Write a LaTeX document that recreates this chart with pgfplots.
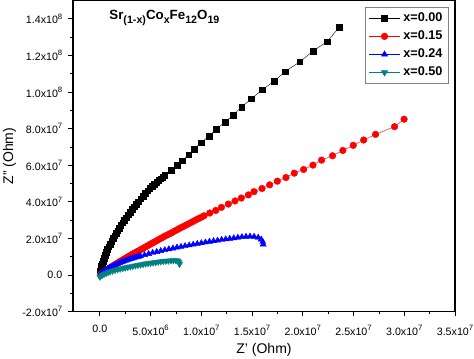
\documentclass[border=0pt]{standalone}
\usepackage{pgfplots}
\pgfplotsset{compat=1.18}
\usepackage{fontspec}
\setmainfont{Liberation Sans}
\definecolor{tealc}{RGB}{0,128,128}
\newcommand{\sub}[1]{\raisebox{-0.28em}{\fontsize{8}{9}\selectfont #1}}
\newcommand{\tsup}[1]{\raisebox{0.45em}{\fontsize{5.8}{6}\selectfont #1}}
\begin{document}
\begin{tikzpicture}
\begin{axis}[
  name=ax,
  scale only axis,
  width=286.5pt, height=233.3pt,
  xmin=-2.65, xmax=35, ymin=-2, ymax=15,
  axis line style={line width=0.9pt},
  tick pos=left, tick align=outside,
  major tick length=3.5pt, minor tick length=2pt,
  every tick/.style={black, line width=0.6pt},
  xtick={0,5,10,15,20,25,30,35},
  xticklabels={0.0,5.0x10\tsup{6},1.0x10\tsup{7},1.5x10\tsup{7},2.0x10\tsup{7},2.5x10\tsup{7},3.0x10\tsup{7},3.5x10\tsup{7}},
  ytick={-2,0,2,4,6,8,10,12,14},
  yticklabels={-2.0x10\tsup{7},0.0,2.0x10\tsup{7},4.0x10\tsup{7},6.0x10\tsup{7},8.0x10\tsup{7},1.0x10\tsup{8},1.2x10\tsup{8},1.4x10\tsup{8}},
  minor x tick num=1, minor y tick num=1,
  tick label style={font=\fontsize{8}{9}\selectfont},
  xticklabel style={yshift=-3pt},
  yticklabel style={xshift=-1pt},
  xlabel={Z' (Ohm)}, ylabel={Z'' (Ohm)},
  label style={font=\fontsize{10.5}{12}\selectfont},
  xlabel style={yshift=1pt},
  ylabel style={yshift=-2pt},
  legend style={at={(0.984,0.981)}, anchor=north east, draw=gray, line width=0.6pt,
    font=\fontsize{9.5}{11}\selectfont\bfseries, row sep=1.4pt, inner sep=2.5pt},
  legend image code/.code={\draw[mark repeat=2,mark phase=2,line width=0.4pt] plot coordinates {(0cm,0cm) (0.42cm,0cm) (0.84cm,0cm)};},
  legend cell align=left,
]
\addplot[black, line width=0.3pt, mark=square*, mark size=2.1pt] coordinates {
(0.05,0.24) (0.1,0.37) (0.15,0.49) (0.22,0.63) (0.3,0.77) (0.4,0.93) (0.5,1.08) (0.62,1.24)
(0.75,1.40) (0.87,1.55) (1.0,1.69) (1.15,1.85) (1.3,2.00) (1.45,2.15) (1.6,2.29) (1.75,2.43)
(1.9,2.56) (2.07,2.71) (2.25,2.86) (2.42,3.00) (2.6,3.14) (2.8,3.30) (3.0,3.45) (3.2,3.60)
(3.4,3.74) (3.6,3.88) (3.8,4.02) (4.02,4.17) (4.25,4.32) (4.47,4.47) (4.7,4.62) (4.92,4.75)
(5.15,4.86) (5.37,4.97) (5.6,5.08) (5.8,5.18) (6.0,5.27) (6.2,5.36) (6.4,5.45)
(7.05,5.72) (7.64,5.99) (8.14,6.26) (8.76,6.58)
(9.29,6.89) (10.0,7.24) (10.76,7.6) (11.45,7.97) (12.33,8.35) (13.12,8.74) (13.98,9.19)
(14.93,9.63) (16.0,10.13) (17.19,10.6) (18.24,11.12) (19.7,11.65) (21.0,12.24) (22.4,12.76) (23.6,13.55)
};
\addlegendentry{x=0.00}
\addplot[red, line width=0.3pt, mark=*, mark size=2.5pt] coordinates {
(0.1,0.05) (0.2,0.09) (0.3,0.13) (0.45,0.19) (0.6,0.25) (0.8,0.33) (1.0,0.40) (1.2,0.47)
(1.4,0.54) (1.6,0.61) (1.8,0.68) (2.0,0.75) (2.2,0.81) (2.4,0.88) (2.6,0.94) (2.8,1.01)
(3.0,1.07) (3.2,1.14) (3.4,1.20) (3.6,1.26) (3.8,1.32) (4.02,1.39) (4.25,1.46) (4.47,1.53)
(4.7,1.60) (4.92,1.67) (5.15,1.74) (5.37,1.81) (5.6,1.88) (5.85,1.96) (6.1,2.03) (6.35,2.11)
(6.6,2.18) (6.85,2.25) (7.1,2.32) (7.35,2.40) (7.6,2.47) (7.85,2.55) (8.1,2.62) (8.35,2.69)
(8.6,2.76) (8.87,2.84) (9.15,2.92) (9.42,3.00) (9.7,3.08) (10.0,3.16) (10.27,3.24)
(10.83,3.39) (11.42,3.53) (11.98,3.70) (12.66,3.88) (13.32,4.05) (13.94,4.21) (14.63,4.38)
(15.19,4.56) (15.98,4.73) (16.73,4.93) (17.49,5.13) (18.34,5.33) (19.16,5.57) (20.08,5.77)
(21.0,6.01) (21.85,6.28) (22.93,6.52) (23.95,6.81) (24.97,7.09) (26.0,7.38) (27.17,7.69)
(29.04,8.11) (29.98,8.52)
};
\addlegendentry{x=0.15}
\addplot[blue, line width=0.3pt, mark=triangle*, mark size=2.6pt] coordinates {
(0.1,0.08) (0.25,0.15) (0.4,0.22) (0.6,0.29) (0.8,0.36) (1.0,0.42) (1.2,0.47) (1.4,0.53)
(1.6,0.58) (1.8,0.63) (2.0,0.67) (2.2,0.72) (2.4,0.76) (2.6,0.80) (2.8,0.84) (3.0,0.88)
(3.2,0.91) (3.4,0.95) (3.6,0.98) (3.8,1.01) (4.0,1.04) (4.4,1.10) (4.8,1.16) (5.2,1.22)
(5.6,1.27) (6.0,1.32)
(6.4,1.37) (6.8,1.42) (7.2,1.46) (7.6,1.51) (8.0,1.55) (8.4,1.59) (8.8,1.63) (9.2,1.67)
(9.6,1.71) (10.0,1.75) (10.4,1.79) (10.8,1.83) (11.2,1.86) (11.6,1.89) (12.0,1.93) (12.4,1.96)
(12.8,1.99) (13.2,2.02) (13.6,2.05) (14.0,2.08) (14.4,2.10) (14.8,2.11) (15.2,2.10) (15.6,2.05)
(15.9,1.95) (16.05,1.82) (16.1,1.68)
};
\addlegendentry{x=0.24}
\addplot[tealc, line width=0.3pt, mark=triangle*, mark options={rotate=180}, mark size=2.7pt] coordinates {
(0.0,-0.1) (0.2,-0.02) (0.4,0.05) (0.6,0.1) (0.8,0.15) (1.0,0.19) (1.25,0.23) (1.5,0.27)
(1.75,0.31) (2.0,0.34) (2.25,0.37) (2.5,0.40) (2.75,0.43) (3.0,0.46) (3.25,0.49) (3.5,0.52)
(3.75,0.54) (4.0,0.57) (4.25,0.59) (4.5,0.62) (4.75,0.64) (5.0,0.66) (5.25,0.68) (5.5,0.70)
(5.75,0.72) (6.0,0.74) (6.25,0.76) (6.5,0.77) (6.75,0.78) (7.0,0.79) (7.25,0.80) (7.5,0.80)
(7.7,0.78) (7.8,0.70) (7.85,0.60)
};
\addlegendentry{x=0.50}
\node[anchor=west, font=\fontsize{10}{12}\selectfont\bfseries] at (axis description cs:0.083,0.945)
  {Sr\sub{(1-x)}Co\sub{x}Fe\sub{12}O\sub{19}};
\end{axis}
\pgfresetboundingbox
\useasboundingbox ([shift={(-54.75pt,-35.25pt)}]ax.south west) rectangle ([shift={(14.25pt,0.45pt)}]ax.north east);
\end{tikzpicture}
\end{document}
